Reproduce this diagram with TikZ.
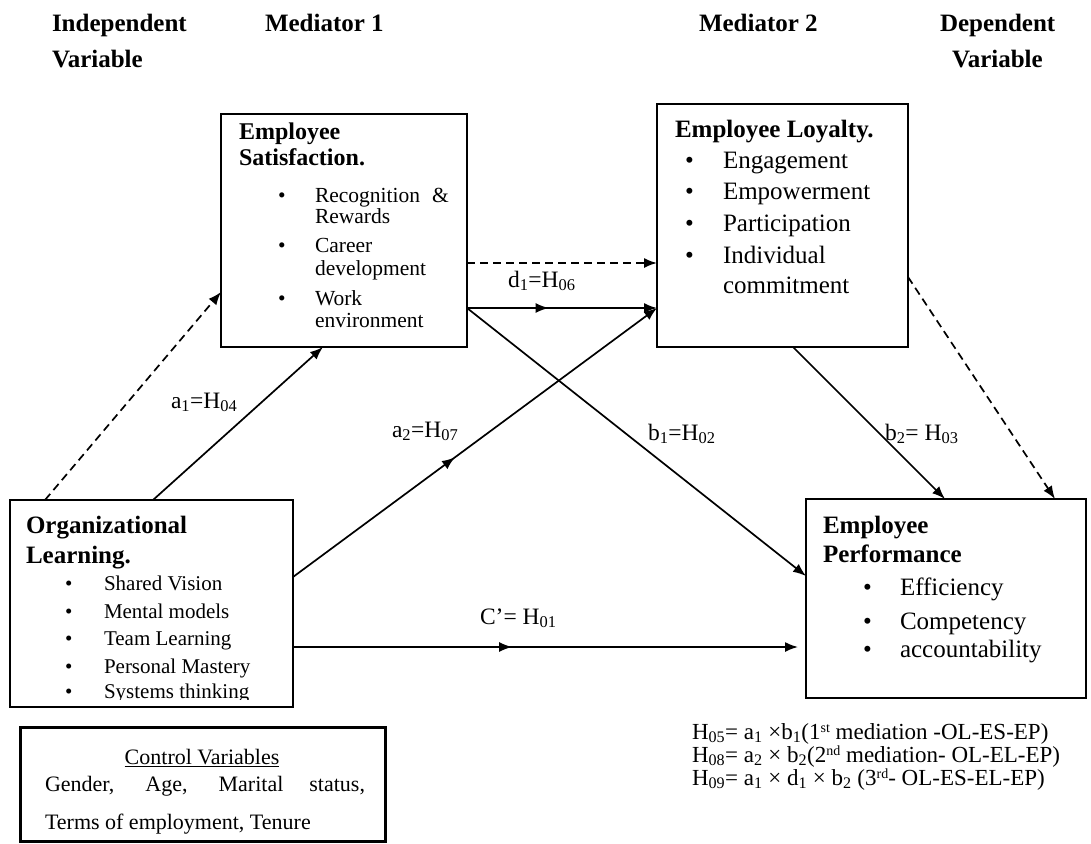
\documentclass[tikz,border=0pt]{standalone}
\usepackage{fontspec}
\setmainfont{Liberation Serif}
\usetikzlibrary{arrows.meta,decorations.markings}
\newcommand{\upsc}[1]{\raisebox{0.3em}{\fontsize{14}{14}\selectfont #1}}
\begin{document}
\begin{tikzpicture}[x=1pt,y=-1pt,
  box/.style={draw, line width=1.8pt, anchor=north west, inner sep=0pt, outer sep=0pt},
  txt/.style={anchor=base west, inner sep=0pt, outer sep=0pt},
  hdr/.style={txt, font=\fontsize{25}{30}\selectfont\bfseries},
  ttl/.style={txt, font=\fontsize{25}{30}\selectfont\bfseries},
  ttlsm/.style={txt, font=\fontsize{24}{29}\selectfont\bfseries},
  sm/.style={txt, font=\fontsize{21.5}{26}\selectfont},
  ols/.style={txt, font=\fontsize{21}{26}\selectfont},
  bg/.style={txt, font=\fontsize{25}{30}\selectfont},
  cvf/.style={txt, font=\fontsize{22}{26}\selectfont},
  fml/.style={txt, font=\fontsize{23}{27}\selectfont},
  lbl/.style={txt, font=\fontsize{23.5}{27}\selectfont},
  tip/.tip={Latex[length=13pt,width=10pt]},
  conn/.style={line width=1.7pt, -tip},
  dconn/.style={conn, dash pattern=on 8pt off 5pt},
  midarr/.style={postaction={decorate}, decoration={markings, mark=at position #1 with {\arrow{tip}}}}
]
\useasboundingbox (0,0) rectangle (1091,843);

% headers
\node[hdr] (h1) at (52,32) {Independent};
\node[hdr] (h2) at (52,67) {Variable};
\node[hdr] (h3) at (265,32) {Mediator 1};
\node[hdr] (h4) at (699,32) {Mediator 2};
\node[hdr] (h5) at (940,32) {Dependent};
\node[hdr] (h6) at (952,67) {Variable};

% boxes
\node[box, minimum width=246pt, minimum height=233pt] (ES) at (221,114) {};
\node[box, minimum width=251pt, minimum height=243pt] (EL) at (657,104) {};
\node[box, minimum width=283pt, minimum height=207pt] (OL) at (10,500) {};
\node[box, minimum width=280pt, minimum height=199pt] (EP) at (806,499) {};
\node[box, line width=3pt, minimum width=365pt, minimum height=114pt] (CV) at (20,727) {};

% Employee Satisfaction
\node[ttlsm] (es1) at (239,139) {Employee};
\node[ttlsm] (es2) at (239,165) {Satisfaction.};
\node[sm] (esb1) at (278,202) {•};
\node[sm] (esb2) at (278,252) {•};
\node[sm] (esb3) at (278,305) {•};
\node[sm] (est1) at (315,202) {Recognition\hspace{12pt}\&};
\node[sm] (est2) at (315,223) {Rewards};
\node[sm] (est3) at (315,252) {Career};
\node[sm] (est4) at (315,275) {development};
\node[sm] (est5) at (315,305) {Work};
\node[sm] (est6) at (315,327) {environment};

% Employee Loyalty
\node[ttl] (el1) at (675,137) {Employee Loyalty.};
\node[bg] (elb1) at (685,168) {•};
\node[bg] (elb2) at (685,199) {•};
\node[bg] (elb3) at (685,231) {•};
\node[bg] (elb4) at (685,263) {•};
\node[bg] (elt1) at (723,168) {Engagement};
\node[bg] (elt2) at (723,199) {Empowerment};
\node[bg] (elt3) at (723,231) {Participation};
\node[bg] (elt4) at (723,263) {Individual};
\node[bg] (elt5) at (723,293) {commitment};

% Organizational Learning
\node[ttl] (ol1) at (26,533) {Organizational};
\node[ttl] (ol2) at (26,563) {Learning.};
\node[ols] (olb1) at (65,590) {•};
\node[ols] (olb2) at (65,618) {•};
\node[ols] (olb3) at (65,645) {•};
\node[ols] (olb4) at (65,673) {•};
\node[ols] (olb5) at (65,698) {•};
\node[ols] (olt1) at (104,590) {Shared Vision};
\node[ols] (olt2) at (104,618) {Mental models};
\node[ols] (olt3) at (104,645) {Team Learning};
\node[ols] (olt4) at (104,673) {Personal Mastery};
\begin{scope}
  \clip (10,500) rectangle (293,699);
  \node[ols] (olt5) at (104,698) {Systems thinking};
\end{scope}

% Employee Performance
\node[ttl] (ep1) at (823,533) {Employee};
\node[ttl] (ep2) at (823,562) {Performance};
\node[bg] (epb1) at (863,595) {•};
\node[bg] (epb2) at (863,629) {•};
\node[bg] (epb3) at (863,657) {•};
\node[bg] (ept1) at (900,595) {Efficiency};
\node[bg] (ept2) at (900,629) {Competency};
\node[bg] (ept3) at (900,657) {accountability};

% Control variables
\node[cvf, anchor=base] (cv1) at (202,764) {\underline{Control Variables}};
\node[cvf] (cv2) at (45,791) {\makebox[320pt][s]{Gender, Age, Marital status,}};
\node[cvf] (cv3) at (45,829) {Terms of employment, Tenure};

% formulas
\node[fml] (f1) at (692,739) {H\textsubscript{05}= a\textsubscript{1} ×b\textsubscript{1}(1\upsc{st} mediation -OL-ES-EP)};
\node[fml] (f2) at (692,762) {H\textsubscript{08}= a\textsubscript{2} × b\textsubscript{2}(2\upsc{nd} mediation- OL-EL-EP)};
\node[fml] (f3) at (692,785) {H\textsubscript{09}= a\textsubscript{1} × d\textsubscript{1} × b\textsubscript{2} (3\upsc{rd}- OL-ES-EL-EP)};

% path labels
\node[lbl] (ld1) at (508,287) {d\textsubscript{1}=H\textsubscript{06}};
\node[lbl] (la1) at (171,408) {a\textsubscript{1}=H\textsubscript{04}};
\node[lbl] (la2) at (392,437) {a\textsubscript{2}=H\textsubscript{07}};
\node[lbl] (lb1) at (648,440) {b\textsubscript{1}=H\textsubscript{02}};
\node[lbl] (lb2) at (885,440) {b\textsubscript{2}= H\textsubscript{03}};
\node[lbl] (lc) at (480,624) {C’= H\textsubscript{01}};

% connectors
\draw[dconn] ([xshift=35pt]OL.north west) -- ([yshift=55pt]ES.south west);
\draw[conn] ([xshift=143pt]OL.north west) -- ([xshift=102pt]ES.south west);
\draw[conn, midarr=0.445] ([yshift=-77pt]OL.north east) -- ([yshift=39pt]EL.south west);
\draw[conn, midarr=0.43] ([yshift=39pt]ES.south east) -- ([yshift=39pt]EL.south west);
\draw[dconn] ([yshift=84pt]ES.south east) -- ([yshift=84pt]EL.south west);
\draw[conn] ([yshift=39pt]ES.south east) -- ([yshift=-77pt]EP.north west);
\draw[conn] ([xshift=136pt]EL.south west) -- ([xshift=139pt]EP.north west);
\draw[dconn] ([yshift=70pt]EL.south east) -- ([xshift=249pt]EP.north west);
\draw[conn, midarr=0.434] ([yshift=-147pt]OL.north east) -- ([xshift=-8pt,yshift=-148pt]EP.north west);
\end{tikzpicture}
\end{document}
